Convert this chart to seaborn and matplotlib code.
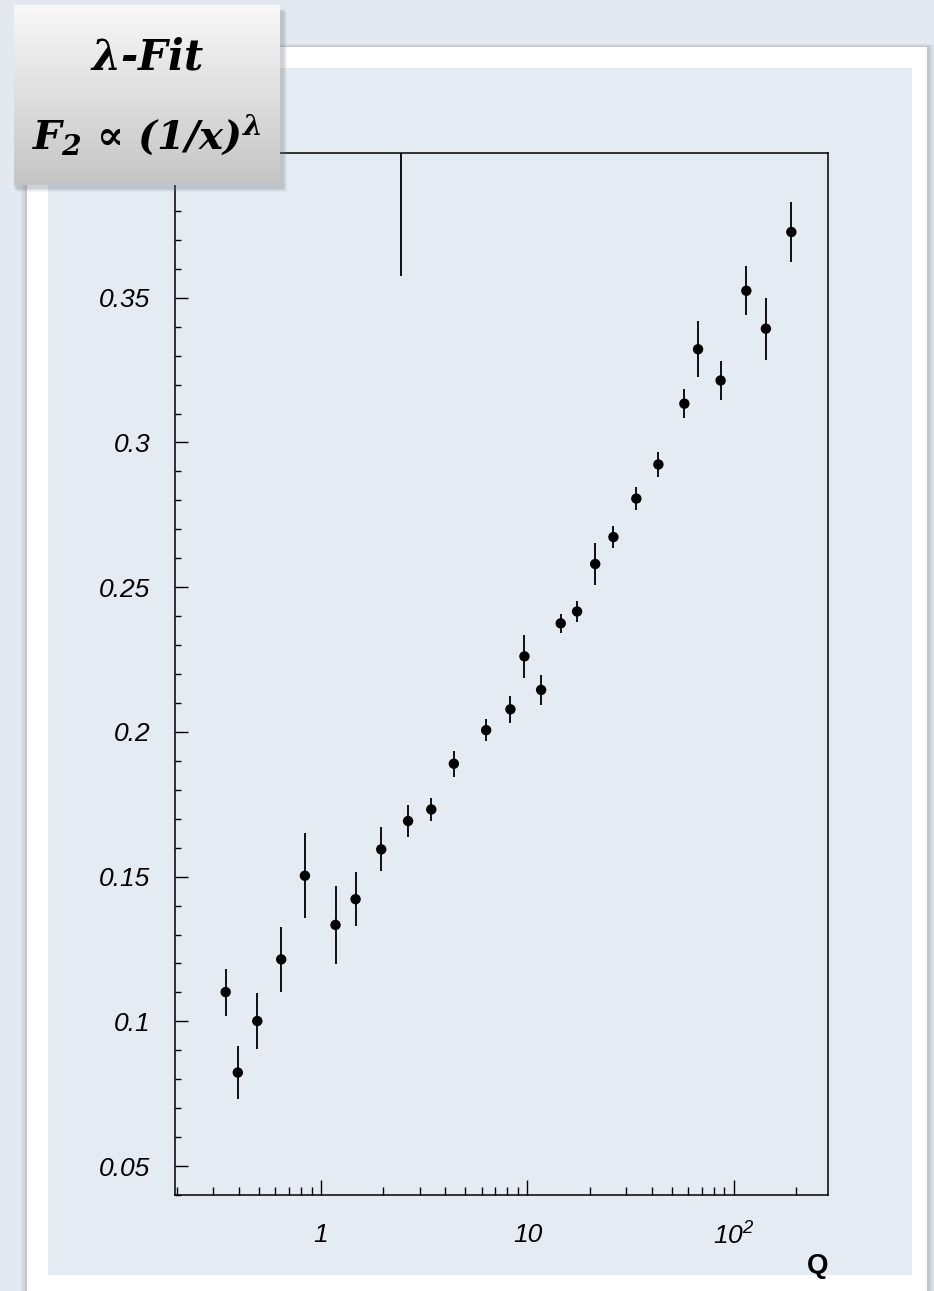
import numpy as np
import pandas as pd
import matplotlib
matplotlib.use("Agg")
import matplotlib.pyplot as plt
import matplotlib.ticker as mticker
from matplotlib.patches import Rectangle
from matplotlib.colors import LinearSegmentedColormap
import seaborn as sns

# Fitted exponent lambda of F2 ~ (1/x)^lambda versus Q
q_values = [0.345, 0.395, 0.491, 0.641, 0.835, 1.175, 1.47, 1.957, 2.45, 2.64,
            3.42, 4.40, 6.31, 8.27, 9.67, 11.65, 14.5, 17.4, 21.3, 26.1,
            33.7, 43.1, 57.6, 67.1, 86.3, 115.0, 143.0, 190.0]
lambda_values = [0.1101, 0.0823, 0.1001, 0.1214, 0.1503, 0.1333, 0.1422, 0.1594, 0.420, 0.1692,
                 0.1732, 0.1890, 0.2006, 0.2078, 0.2261, 0.2145, 0.2375, 0.2416, 0.2580, 0.2673,
                 0.2806, 0.2924, 0.3134, 0.3322, 0.3214, 0.3524, 0.3393, 0.3727]
lambda_errors = [0.0081, 0.0091, 0.0098, 0.0113, 0.0146, 0.0134, 0.0094, 0.0076, 0.0626, 0.0054,
                 0.0041, 0.0045, 0.0037, 0.0046, 0.0074, 0.0052, 0.0032, 0.0037, 0.0073, 0.0039,
                 0.0039, 0.0043, 0.0049, 0.0096, 0.0069, 0.0085, 0.0107, 0.0102]

x_major = [1, 10, 100]
x_major_labels = ["1", "10", r"$\mathsf{10^{2}}$"]
y_major = [0.05, 0.10, 0.15, 0.20, 0.25, 0.30, 0.35]

df = pd.DataFrame({"Q": q_values, "lam": lambda_values, "err": lambda_errors})

sns.set_style("ticks")
plt.rcParams["font.family"] = ["Liberation Sans", "DejaVu Sans"]
plt.rcParams["font.style"] = "italic"
plt.rcParams["text.color"] = "black"
plt.rcParams["axes.labelcolor"] = "black"
plt.rcParams["mathtext.fontset"] = "custom"
plt.rcParams["mathtext.rm"] = "DejaVu Serif:bold"
plt.rcParams["mathtext.it"] = "DejaVu Serif:italic:bold"
plt.rcParams["mathtext.bf"] = "DejaVu Serif:bold"
plt.rcParams["mathtext.sf"] = "Liberation Sans:italic"
plt.rcParams["mathtext.fallback"] = "stix"

W, H = 934, 1291
fig = plt.figure(figsize=(W / 100, H / 100), dpi=100)
paper = "#e3e9f1"
fig.patch.set_facecolor(paper)


def fig_rect(x0, y0, x1, y1, **kw):
    """Rectangle given in pixel coordinates measured from the top-left corner."""
    r = Rectangle((x0 / W, 1 - y1 / H), (x1 - x0) / W, (y1 - y0) / H,
                  transform=fig.transFigure, **kw)
    fig.patches.append(r)
    return r


# white mat with soft shadow, and the inner paper panel
for i, a in enumerate([0.10, 0.14, 0.20]):
    fig_rect(21 + i * 2, 44 + i, 934 - i * 2, 1291, facecolor="#8c939c",
             edgecolor="none", alpha=a, zorder=-12)
fig_rect(27, 47, 927, 1291, facecolor="white", edgecolor="none", zorder=-11)
fig_rect(48, 68, 912, 1275, facecolor="#e5ebf3", edgecolor="none", zorder=-10)

# main axes
ax = fig.add_axes([175 / W, 1 - 1195 / H, (828 - 175) / W, (1195 - 153) / H], zorder=1)
ax.set_facecolor("none")
ax.set_xscale("log")
ax.errorbar(df["Q"], df["lam"], yerr=df["err"], fmt="none", ecolor="black",
            elinewidth=1.3, capsize=0, zorder=2)
sns.scatterplot(data=df, x="Q", y="lam", color="black", s=56, edgecolor="none",
                ax=ax, zorder=3, legend=False)

ax.set_xlim(0.196, 286)
ax.set_ylim(0.04, 0.40)

ax.xaxis.set_major_locator(mticker.FixedLocator(x_major))
ax.xaxis.set_major_formatter(mticker.FixedFormatter(x_major_labels))
ax.xaxis.set_minor_locator(mticker.LogLocator(base=10, subs=np.arange(2, 10), numticks=20))
ax.xaxis.set_minor_formatter(mticker.NullFormatter())
ax.yaxis.set_major_locator(mticker.FixedLocator(y_major))
ax.yaxis.set_major_formatter(mticker.FormatStrFormatter("%g"))
ax.yaxis.set_minor_locator(mticker.MultipleLocator(0.01))

ax.tick_params(axis="both", which="both", direction="in", top=False, right=False,
               colors="black", width=1.0, labelsize=19)
ax.tick_params(axis="x", which="major", length=11, pad=20)
ax.tick_params(axis="x", which="minor", length=5.5)
ax.tick_params(axis="y", which="major", length=9, pad=18)
ax.tick_params(axis="y", which="minor", length=4.5)
for s in ax.spines.values():
    s.set_visible(True)
    s.set_color("black")
    s.set_linewidth(1.1)

ax.set_ylabel("")
ax.set_xlabel("Q", loc="right", fontsize=20, fontweight="bold", fontstyle="normal",
              labelpad=2, color="black")

# label box with gradient fill and a soft drop shadow
for i, a in enumerate([0.06, 0.08, 0.10, 0.12]):
    fig_rect(14 + 3 - i, 5 + 7 - i, 280 + 7 - i, 185 + 7 - i, facecolor="#6f757d",
             edgecolor="none", alpha=a, zorder=2)
box_ax = fig.add_axes([14 / W, 1 - 185 / H, (280 - 14) / W, (185 - 5) / H], zorder=3)
grad = np.linspace(0, 1, 256).reshape(-1, 1)
cmap = LinearSegmentedColormap.from_list("box", ["#f8f8f8", "#c5c5c5"])
box_ax.imshow(grad, aspect="auto", cmap=cmap, extent=[0, 1, 0, 1])
box_ax.set_axis_off()
serif = ["DejaVu Serif", "Liberation Serif"]
box_ax.text(0.5, 0.71, r"$\mathrm{\lambda}$-Fit", transform=box_ax.transAxes,
            ha="center", va="center", fontsize=30, fontweight="bold",
            fontstyle="italic", family=serif, color="black")
box_ax.text(0.5, 0.28, "$\\mathit{F}_{\\mathrm{2}}$ \u221d (1/x$)^{\\mathrm{\\lambda}}$",
            transform=box_ax.transAxes, ha="center", va="center", fontsize=29,
            fontweight="bold", fontstyle="italic", family=serif, color="black")

fig.savefig("out.png", dpi=100, facecolor=fig.get_facecolor())
